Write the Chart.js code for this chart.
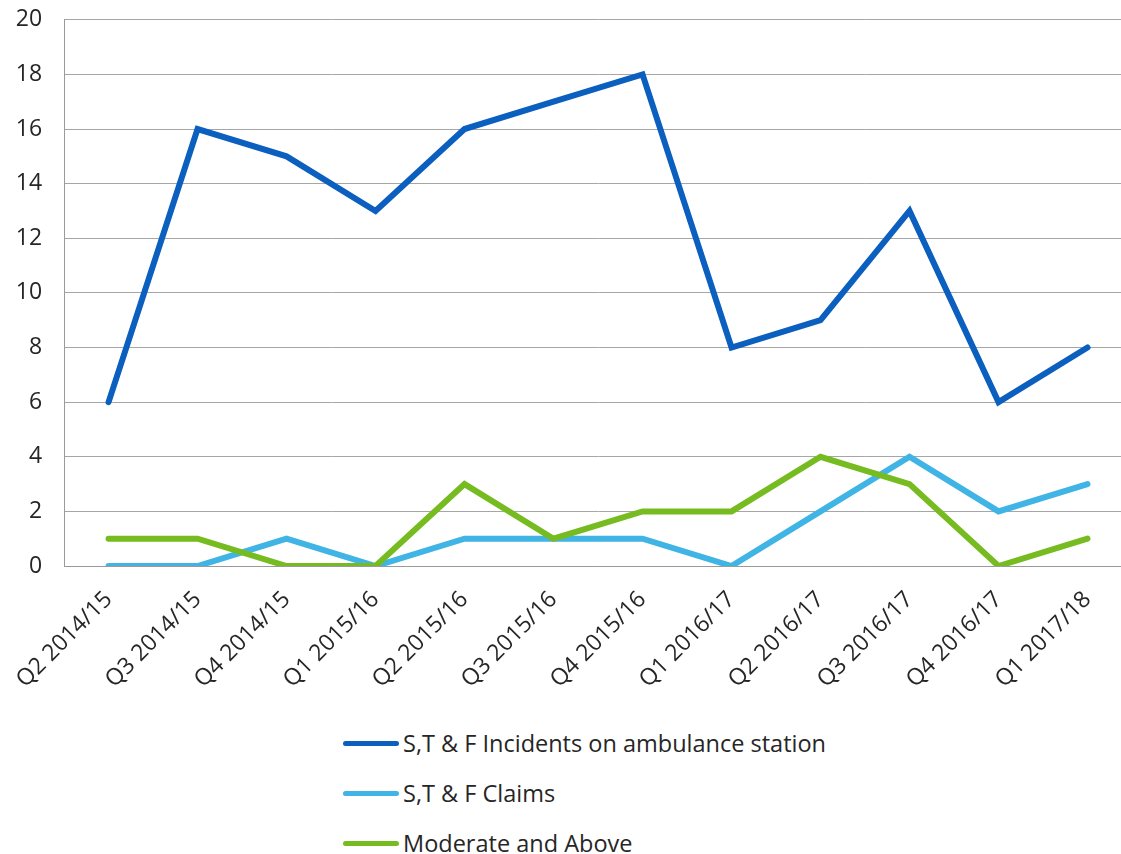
<!DOCTYPE html>
<html>
<head>
<meta charset="utf-8">
<title>S,T & F incidents by quarter</title>
<script src="https://cdn.jsdelivr.net/npm/chart.js@4/dist/chart.umd.min.js"></script>
<style>
  html, body { margin: 0; padding: 0; background: #fff; overflow: hidden; }
  #wrap { position: relative; width: 1121px; height: 854px; overflow: hidden; }
  #chart { position: absolute; left: -2px; top: -16px; }
  #legend { position: absolute; left: 343px; top: 718px; font-family: "Open Sans", Lato, sans-serif; font-size: 23.5px; color: #262626; }
  .item { display: flex; align-items: center; height: 50px; }
  .swatch { width: 56px; height: 5px; border-radius: 3px; margin-right: 4px; }
</style>
</head>
<body>
<div id="wrap">
  <canvas id="chart" width="1134" height="716"></canvas>
  <div id="legend"></div>
</div>
<script>
// Quarterly figures
const quarters = ['Q2 2014/15', 'Q3 2014/15', 'Q4 2014/15', 'Q1 2015/16', 'Q2 2015/16', 'Q3 2015/16',
                  'Q4 2015/16', 'Q1 2016/17', 'Q2 2016/17', 'Q3 2016/17', 'Q4 2016/17', 'Q1 2017/18'];
const incidents = [6, 16, 15, 13, 16, 17, 18, 8, 9, 13, 6, 8];
const claims    = [0, 0, 1, 0, 1, 1, 1, 0, 2, 4, 2, 3];
const moderate  = [1, 1, 0, 0, 3, 1, 2, 2, 4, 3, 0, 1];
const yTicks = [0, 2, 4, 6, 8, 10, 12, 14, 16, 18, 20];

const seriesNames = ['S,T & F Incidents on ambulance station', 'S,T & F Claims', 'Moderate and Above'];
const seriesColors = ['#0B5FBE', '#3FB4E5', '#76BC21'];

const axisFont = { family: '"Open Sans", Lato, sans-serif', size: 23 };

const chart = new Chart(document.getElementById('chart'), {
  type: 'line',
  data: {
    labels: quarters,
    datasets: [incidents, claims, moderate].map((values, i) => ({
      label: seriesNames[i],
      data: values,
      borderColor: seriesColors[i],
      backgroundColor: seriesColors[i],
      borderWidth: 6,
      pointRadius: 0,
      tension: 0,
      borderJoinStyle: 'miter',
      borderCapStyle: 'round',
      order: 3 - i
    }))
  },
  options: {
    responsive: false,
    animation: false,
    layout: { padding: 0 },
    plugins: { legend: { display: false }, tooltip: { enabled: false } },
    scales: {
      x: {
        offset: true,
        grid: { display: false, drawTicks: false },
        border: { color: '#9a9a9a', width: 1 },
        ticks: {
          color: '#262626', font: axisFont,
          minRotation: 45, maxRotation: 45, padding: 20, autoSkip: false
        },
        afterFit(scale) { scale.height = 134; }
      },
      y: {
        min: 0, max: 20,
        afterBuildTicks(scale) { scale.ticks = yTicks.map(v => ({ value: v })); },
        grid: { color: '#a6a6a6', lineWidth: 1, drawTicks: false },
        border: { color: '#9a9a9a', width: 1 },
        ticks: { color: '#262626', font: axisFont, padding: 22 },
        afterFit(scale) { scale.width = 63; }
      }
    }
  }
});

// Stacked legend below the plot
const legend = document.getElementById('legend');
chart.data.datasets.forEach(ds => {
  const row = document.createElement('div');
  row.className = 'item';
  const sw = document.createElement('span');
  sw.className = 'swatch';
  sw.style.background = ds.borderColor;
  const txt = document.createElement('span');
  txt.textContent = ds.label;
  row.appendChild(sw);
  row.appendChild(txt);
  legend.appendChild(row);
});
</script>
</body>
</html>
